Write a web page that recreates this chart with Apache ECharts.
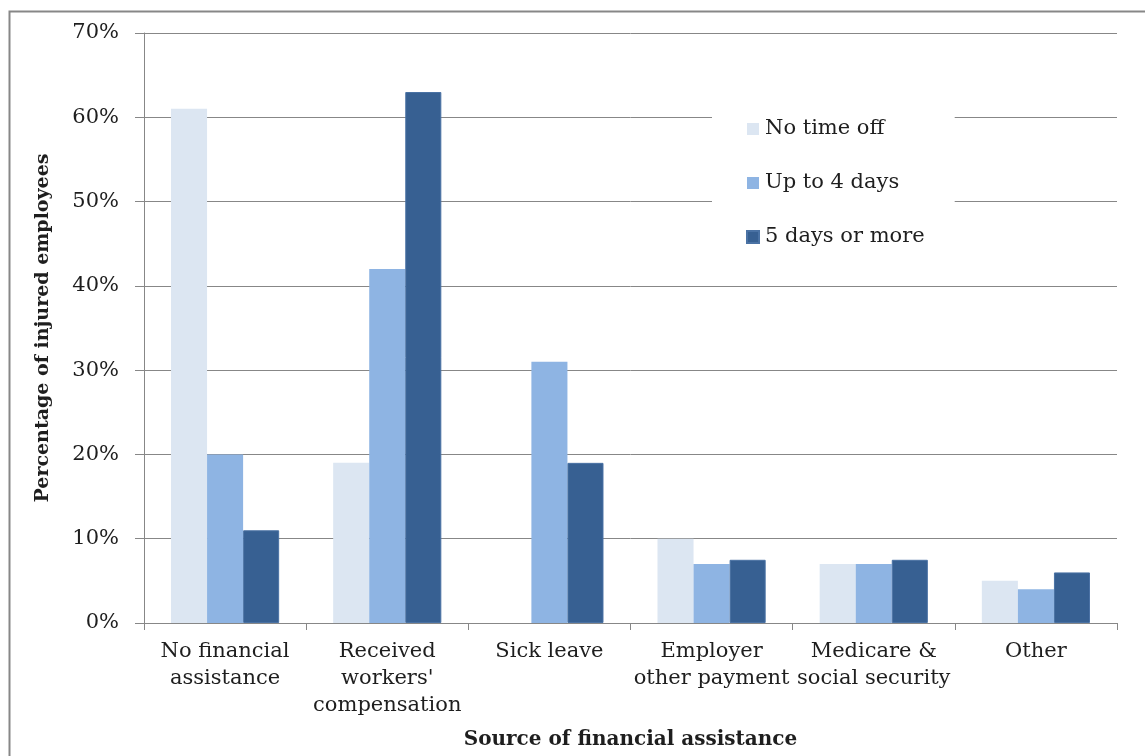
<!DOCTYPE html>
<html>
<head>
<meta charset="utf-8">
<script src="https://cdn.jsdelivr.net/npm/echarts@6/dist/echarts.min.js"></script>
<style>
  html, body { margin: 0; padding: 0; background: #fff; }
  #chart { width: 1145px; height: 756px; }
</style>
</head>
<body>
<div id="chart"></div>
<script>
// Sources of financial assistance reported by injured employees
const categories = [
  'No financial\nassistance',
  "Received\nworkers'\ncompensation",
  'Sick leave',
  'Employer\nother payment',
  'Medicare &\nsocial security',
  'Other'
];
const seriesNames = ['No time off', 'Up to 4 days', '5 days or more'];
const noTimeOff = [61, 19, 0, 10, 7, 5];
const upTo4Days = [20, 42, 31, 7, 7, 4];
const fiveOrMore = [11, 63, 19, 7.5, 7.5, 6];
const yTicks = { min: 0, max: 70, interval: 10 };

const FONT = 'DejaVu Serif';
const TEXT = '#1e1e1e';
const GRAY = '#878787';
const colors = ['#dce6f2', '#8eb4e3', '#376092'];

const chart = echarts.init(document.getElementById('chart'), null, { renderer: 'canvas' });

const values = [noTimeOff, upTo4Days, fiveOrMore];

chart.setOption({
  animation: false,
  backgroundColor: '#fff',
  graphic: [{
    type: 'rect',
    left: 7, top: 9,
    shape: { x: 0, y: 0, width: 1200, height: 800 },
    style: { fill: 'none', stroke: GRAY, lineWidth: 2 },
    silent: true,
    z: 100
  }],
  grid: { left: 144, right: 28, top: 33, bottom: 133, containLabel: false },
  legend: {
    orient: 'vertical',
    left: 712,
    top: 105,
    padding: [12, 30, 12, 34],
    backgroundColor: '#fff',
    itemWidth: 12,
    itemHeight: 12,
    itemGap: 30,
    icon: 'rect',
    textStyle: { fontFamily: FONT, fontSize: 21, color: TEXT, lineHeight: 24, padding: [0, 0, 0, 1] },
    data: seriesNames,
    z: 10
  },
  xAxis: {
    type: 'category',
    data: categories,
    name: 'Source of financial assistance',
    nameLocation: 'middle',
    nameGap: 107,
    nameTextStyle: { fontFamily: FONT, fontSize: 20, fontWeight: 'bold', color: TEXT },
    axisLine: { lineStyle: { color: GRAY, width: 1 } },
    axisTick: { show: true, length: 7, alignWithLabel: false, lineStyle: { color: GRAY } },
    axisLabel: {
      interval: 0,
      margin: 15,
      fontFamily: FONT, fontSize: 21, color: TEXT, lineHeight: 27
    }
  },
  yAxis: {
    type: 'value',
    min: yTicks.min, max: yTicks.max, interval: yTicks.interval,
    name: 'Percentage of injured employees',
    nameLocation: 'middle',
    nameGap: 91,
    nameTextStyle: { fontFamily: FONT, fontSize: 19, fontWeight: 'bold', color: TEXT },
    axisLine: { show: true, lineStyle: { color: GRAY, width: 1 } },
    axisTick: { show: true, length: 9, lineStyle: { color: GRAY } },
    axisLabel: {
      margin: 25,
      fontFamily: FONT, fontSize: 21, color: TEXT,
      formatter: v => v + '%'
    },
    splitLine: { show: true, lineStyle: { color: GRAY, width: 1 } }
  },
  series: seriesNames.map((name, i) => ({
    name,
    type: 'bar',
    data: values[i],
    barGap: '0%',
    barCategoryGap: '33.3%',
    itemStyle: {
      color: colors[i],
      borderColor: i === 2 ? '#4a72a4' : colors[i],
      borderWidth: i === 2 ? 1 : 0
    }
  }))
});
</script>
</body>
</html>
